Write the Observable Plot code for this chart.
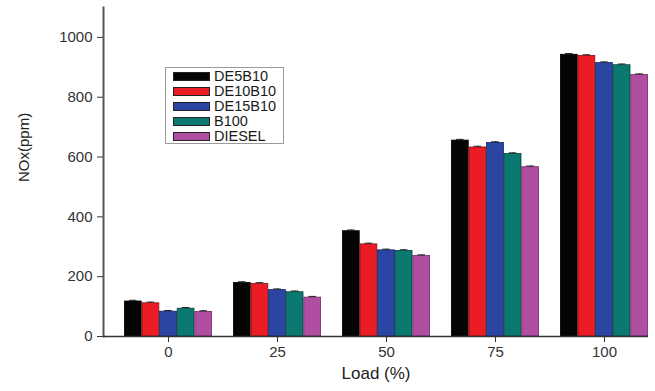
<!DOCTYPE html>
<html>
<head>
<meta charset="utf-8">
<script src="https://cdn.jsdelivr.net/npm/d3@7"></script>
<script src="https://cdn.jsdelivr.net/npm/@observablehq/plot@0.6"></script>
<style>
  html, body { margin: 0; padding: 0; background: #fff; }
  #wrap { position: relative; width: 655px; height: 391px; font-family: "Liberation Sans", Arial, sans-serif; }
  #legend { position: absolute; left: 165px; top: 67px; width: 119px; height: 77px; padding: 1px 0 0 7px; border: 1px solid #9a9a9a; background: #fff; box-sizing: border-box; }
  .row { display: flex; align-items: center; height: 15px; }
  .sw { width: 37px; height: 9px; margin-right: 4px; box-sizing: border-box; border: 1px solid #222; flex: none; }
  .lab { display: block; font-size: 14.5px; line-height: 15px; height: 15px; color: #1a1a1a; white-space: nowrap; }
</style>
</head>
<body>
<div id="wrap"><div id="chart"></div><div id="legend"></div></div>
<script>
const loads = ["0", "25", "50", "75", "100"];
const series = ["DE5B10", "DE10B10", "DE15B10", "B100", "DIESEL"];
const de5b10  = [117, 179, 352, 655, 942];
const de10b10 = [111, 176, 308, 632, 938];
const de15b10 = [83, 155, 288, 647, 914];
const b100    = [93, 148, 286, 610, 907];
const diesel  = [82, 130, 269, 566, 874];
const errors  = [4, 4, 4, 4, 4];
const yTicks  = [0, 200, 400, 600, 800, 1000];
const xTitle  = "Load (%)";
const yTitle  = "NOx(ppm)";
const colors  = ["#050505", "#ec1c24", "#2b46a2", "#0a7a70", "#b04ea2"];
const strokes = ["#000000", "#8a1010", "#142568", "#04423c", "#6e2a66"];

const values = [de5b10, de10b10, de15b10, b100, diesel];
const rows = series.map((s, i) => loads.map((l, j) => ({load: l, series: s, value: values[i][j], err: errors[j]})));

const W = 655, H = 391, mL = 103, mR = 7, mT = 7, mB = 55;
const pIn = 0.193, pOut = 0.0963;
const xb = d3.scaleBand(loads, [mL, W - mR]).paddingInner(pIn).paddingOuter(pOut).align(1);
const bw = xb.bandwidth() / series.length;

const marks = [];
series.forEach((s, i) => {
  const il = i * bw, ir = (series.length - 1 - i) * bw;
  marks.push(Plot.barY(rows[i], {x: "load", y: "value", fill: colors[i], stroke: strokes[i], strokeWidth: 0.8, insetLeft: il + 0.4, insetRight: ir + 0.4}));
  marks.push(Plot.ruleX(rows[i], {x: "load", y1: "value", y2: d => d.value + d.err, dx: (i - 2) * bw, stroke: "#222", strokeWidth: 1}));
  marks.push(Plot.tickY(rows[i], {x: "load", y: d => d.value + d.err, insetLeft: il + 5, insetRight: ir + 5, stroke: "#222", strokeWidth: 1}));
});
marks.push(Plot.frame({anchor: "left", stroke: "#555", strokeWidth: 2}));
marks.push(Plot.ruleY([0], {stroke: "#333", strokeWidth: 1.5}));
marks.push(Plot.text([yTitle], {text: d => d, frameAnchor: "left", rotate: -90, dx: -79, dy: 10, fontSize: 15, fill: "#222"}));
marks.push(Plot.text([xTitle], {text: d => d, frameAnchor: "bottom", dy: 42, fontSize: 17, fill: "#222"}));

const chart = Plot.plot({
  width: W, height: H,
  marginLeft: mL, marginRight: mR, marginTop: mT, marginBottom: mB,
  style: {fontFamily: "Liberation Sans, Arial, sans-serif", fontSize: "15px", color: "#333", background: "#fff"},
  x: {domain: loads, paddingInner: pIn, paddingOuter: pOut, align: 1, label: null, tickSize: 6, tickPadding: 4},
  y: {domain: [0, 1100], ticks: yTicks, tickFormat: d => String(d), label: null, tickSize: 6, tickPadding: 5},
  marks
});
document.getElementById("chart").appendChild(chart);

const legend = document.getElementById("legend");
series.forEach((s, i) => {
  const r = document.createElement("div");
  r.className = "row";
  r.innerHTML = `<span class="sw" style="background:${colors[i]}"></span><span class="lab">${s}</span>`;
  legend.appendChild(r);
});
</script>
</body>
</html>
